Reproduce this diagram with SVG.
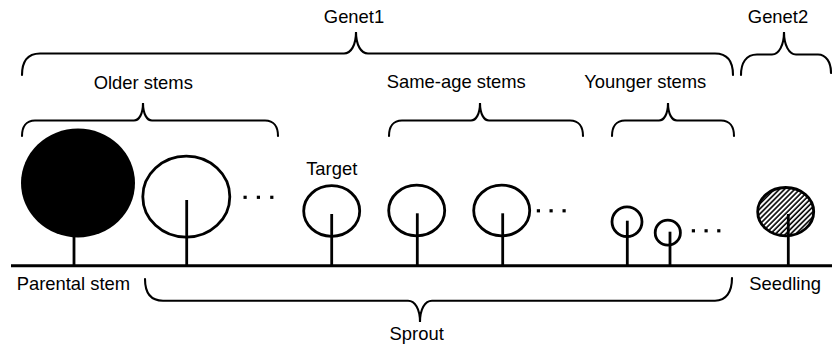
<svg xmlns="http://www.w3.org/2000/svg" width="832" height="347" viewBox="0 0 832 347">
  <style>
    .lbl { font-family: "Liberation Sans", Arial, sans-serif; font-size: 18.4px; fill: #000; }
    .mid { text-anchor: middle; }
    .crown { fill: none; stroke: #000; stroke-width: 2.8; }
    .trunk { stroke: #000; stroke-width: 2.8; fill: none; }
    .brace { fill: none; stroke: #000; stroke-width: 2.1; stroke-linecap: round; }
    .dot { fill: #000; }
  </style>
  <defs>
    <pattern id="hatch" width="3.6" height="3.6" patternUnits="userSpaceOnUse" patternTransform="rotate(45)">
      <line x1="1" y1="0" x2="1" y2="3.6" stroke="#000" stroke-width="1.6"/>
    </pattern>
  </defs>
  <rect width="832" height="347" fill="#fff"/>

  <!-- ground -->
  <line id="ground" x1="11" y1="265.7" x2="832" y2="265.7" stroke="#000" stroke-width="3"/>

  <!-- braces -->
  <g id="connectors">
    <!-- Genet1 -->
    <path class="brace" d="M22,75 C22,62 27,53.5 40,53.5 L344,53.5 C351,53.5 356,45 356,32 C356,45 361,53.5 368,53.5 L715,53.5 C728,53.5 733,62 733,75"/>
    <!-- Genet2 -->
    <path class="brace" d="M741,75 C741,63 746,54.5 757,54.5 L772,54.5 C779,54.5 784,45 784,32 C784,45 789,54.5 796,54.5 L818,54.5 C826,54.5 831,62 831,73"/>
    <!-- Older stems -->
    <path class="brace" d="M22,136 C22,127 26,120.5 35,120.5 L134,120.5 C139,120.5 143,114 143,103 C143,114 147,120.5 152,120.5 L265,120.5 C274,120.5 278,127 278,136"/>
    <!-- Same-age stems -->
    <path class="brace" d="M389,136 C389,127 393,120.5 402,120.5 L471,120.5 C476,120.5 480,114 480,103 C480,114 484,120.5 489,120.5 L570,120.5 C579,120.5 583,127 583,136"/>
    <!-- Younger stems -->
    <path class="brace" d="M612,136 C612,127 616,120.5 625,120.5 L659,120.5 C664,120.5 668,114 668,103 C668,114 672,120.5 677,120.5 L721,120.5 C730,120.5 734,127 734,136"/>
    <!-- Sprout -->
    <path class="brace" d="M145,279 C145,292 150,300.7 163,300.7 L408,300.7 C415,300.7 420,309 420,322 C420,309 425,300.7 432,300.7 L715,300.7 C726,300.7 732,292 732,278"/>
  </g>

  <!-- labels -->
  <g id="genet1"><text class="lbl mid" x="354" y="22.5">Genet1</text></g>
  <g id="genet2"><text class="lbl mid" x="778" y="22.5">Genet2</text></g>
  <g id="older"><text class="lbl mid" x="143.3" y="88.5">Older stems</text></g>
  <g id="same-age"><text class="lbl mid" x="456.3" y="88">Same-age stems</text></g>
  <g id="younger"><text class="lbl mid" x="645.3" y="88">Younger stems</text></g>
  <g id="sprout"><text class="lbl mid" x="416.7" y="340">Sprout</text></g>

  <!-- parental stem -->
  <g id="parental">
    <ellipse cx="78" cy="183" rx="57" ry="54.5" fill="#000"/>
    <line class="trunk" x1="74" y1="236" x2="74" y2="265"/>
    <text class="lbl" x="16.7" y="290">Parental stem</text>
  </g>

  <!-- older sprout -->
  <g id="older-stem">
    <ellipse class="crown" cx="186.3" cy="196.7" rx="43.5" ry="40.5"/>
    <line class="trunk" x1="186.7" y1="200" x2="186.7" y2="265"/>
  </g>
  <g id="older-dots">
    <rect class="dot" x="243.5" y="195.7" width="3.2" height="3.2"/>
    <rect class="dot" x="256.8" y="195.7" width="3.2" height="3.2"/>
    <rect class="dot" x="270.2" y="195.7" width="3.2" height="3.2"/>
  </g>

  <!-- target -->
  <g id="target">
    <text class="lbl mid" x="331.7" y="175">Target</text>
    <ellipse class="crown" cx="331.7" cy="211" rx="28" ry="25.3"/>
    <line class="trunk" x1="331.7" y1="214" x2="331.7" y2="265"/>
  </g>

  <!-- same-age stems -->
  <g id="same-age-1">
    <ellipse class="crown" cx="416.7" cy="210.5" rx="28" ry="25.3"/>
    <line class="trunk" x1="417.3" y1="213.3" x2="417.3" y2="265"/>
  </g>
  <g id="same-age-2">
    <ellipse class="crown" cx="501.7" cy="210.5" rx="28" ry="25.3"/>
    <line class="trunk" x1="502.7" y1="213.3" x2="502.7" y2="265"/>
  </g>
  <g id="same-age-dots">
    <rect class="dot" x="536.8" y="209.2" width="3.2" height="3.2"/>
    <rect class="dot" x="549.5" y="209.2" width="3.2" height="3.2"/>
    <rect class="dot" x="562.5" y="209.2" width="3.2" height="3.2"/>
  </g>

  <!-- younger stems -->
  <g id="younger-1">
    <ellipse class="crown" cx="627" cy="221.7" rx="15" ry="14.8"/>
    <line class="trunk" x1="627.3" y1="220.7" x2="627.3" y2="265"/>
  </g>
  <g id="younger-2">
    <ellipse class="crown" cx="667.8" cy="232.7" rx="12.6" ry="12.5"/>
    <line class="trunk" x1="670" y1="231.7" x2="670" y2="265"/>
  </g>
  <g id="younger-dots">
    <rect class="dot" x="691.8" y="229.2" width="3.2" height="3.2"/>
    <rect class="dot" x="704.5" y="229.2" width="3.2" height="3.2"/>
    <rect class="dot" x="717.2" y="229.2" width="3.2" height="3.2"/>
  </g>

  <!-- seedling -->
  <g id="seedling">
    <ellipse cx="785.7" cy="211.7" rx="28" ry="24.2" fill="url(#hatch)" stroke="#000" stroke-width="2.8"/>
    <line class="trunk" x1="788.3" y1="214" x2="788.3" y2="265"/>
    <text class="lbl" x="749.3" y="290">Seedling</text>
  </g>
</svg>
